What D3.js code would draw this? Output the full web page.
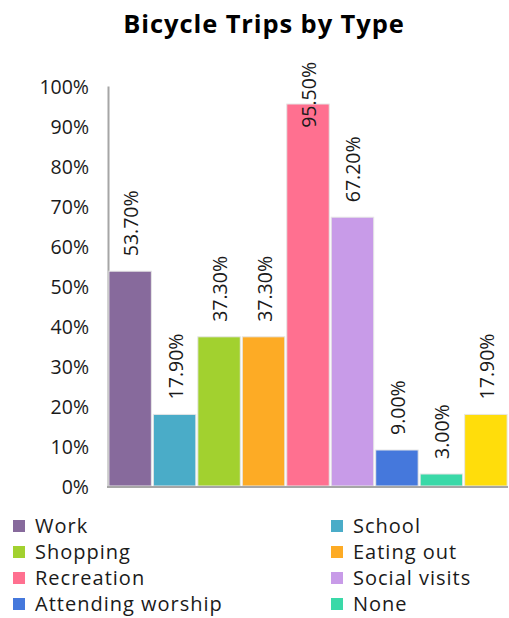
<!DOCTYPE html>
<html><head><meta charset="utf-8">
<script src="https://cdn.jsdelivr.net/npm/d3@7"></script>
<style>body{margin:0;background:#fff;} svg{display:block;font-family:"Open Sans",sans-serif;}</style>
</head><body>
<script>
const categories = ["Work","School","Shopping","Eating out","Recreation","Social visits","Attending worship","None","Other"];
const values = [53.7,17.9,37.3,37.3,95.5,67.2,9.0,3.0,17.9];
const colors = ["#876a9c","#4aacc8","#a2d12f","#fdab25","#ff7090","#c89be8","#4578dc","#3ad9a8","#ffdd0b"];
const yTicks = [0,10,20,30,40,50,60,70,80,90,100];
const legendItems = ["Work","School","Shopping","Eating out","Recreation","Social visits","Attending worship","None"];

(function(){
const W=509,H=618;
const svg=d3.select("body").append("svg").attr("width",W).attr("height",H);
const pL=108,pR=508,pT=86,pB=486;
const x=d3.scaleBand().domain(categories).range([pL,pR]).paddingInner(0.045).paddingOuter(0.02);
const y=d3.scaleLinear().domain([0,100]).range([pB,pT]);

svg.append("text").attr("x",264).attr("y",33).attr("text-anchor","middle")
  .attr("font-size",25.5).attr("font-weight","bold").attr("letter-spacing",0.9).attr("fill","#000").text("Bicycle Trips by Type");

const ya=svg.append("g").attr("transform",`translate(${pL},0)`)
  .call(d3.axisLeft(y).tickValues(yTicks).tickSize(0).tickPadding(19).tickFormat(d=>d+"%"));
ya.select(".domain").attr("stroke","#a6a6a6").attr("stroke-width",2);
ya.selectAll("text").attr("font-size",19.5).attr("fill","#1a1a1a").attr("font-family","Open Sans").attr("dy","0.4em");

svg.append("g").selectAll("rect").data(values).join("rect")
  .attr("x",(d,i)=>x(categories[i])).attr("width",x.bandwidth())
  .attr("y",d=>y(d)).attr("height",d=>pB-y(d))
  .attr("fill",(d,i)=>colors[i]).attr("stroke","#e6e6e6").attr("stroke-width",1);

svg.append("line").attr("x1",pL-1).attr("x2",pR).attr("y1",pB+1).attr("y2",pB+1)
  .attr("stroke","#a6a6a6").attr("stroke-width",2);

const lbl=svg.append("g").selectAll("text").data(values).join("text")
  .attr("font-size",19.5).attr("fill","#1a1a1a").text(d=>d.toFixed(2)+"%");
lbl.each(function(d,i){
  const len=this.getComputedTextLength();
  let start=y(d)-15;
  start=Math.max(start,62+len);
  const cx=x(categories[i])+x.bandwidth()/2+8;
  d3.select(this).attr("transform",`translate(${cx},${start}) rotate(-90)`);
});

const lg=svg.append("g").selectAll("g").data(legendItems).join("g")
  .attr("transform",(d,i)=>`translate(${i%2?331:13},${526+Math.floor(i/2)*26})`);
lg.append("rect").attr("x",0).attr("y",-6).attr("width",12).attr("height",12)
  .attr("fill",d=>colors[categories.indexOf(d)]);
lg.append("text").attr("x",22).attr("y",7).attr("font-size",20).attr("letter-spacing",1).attr("fill","#1a1a1a").text(d=>d);
})();
</script>
</body></html>
